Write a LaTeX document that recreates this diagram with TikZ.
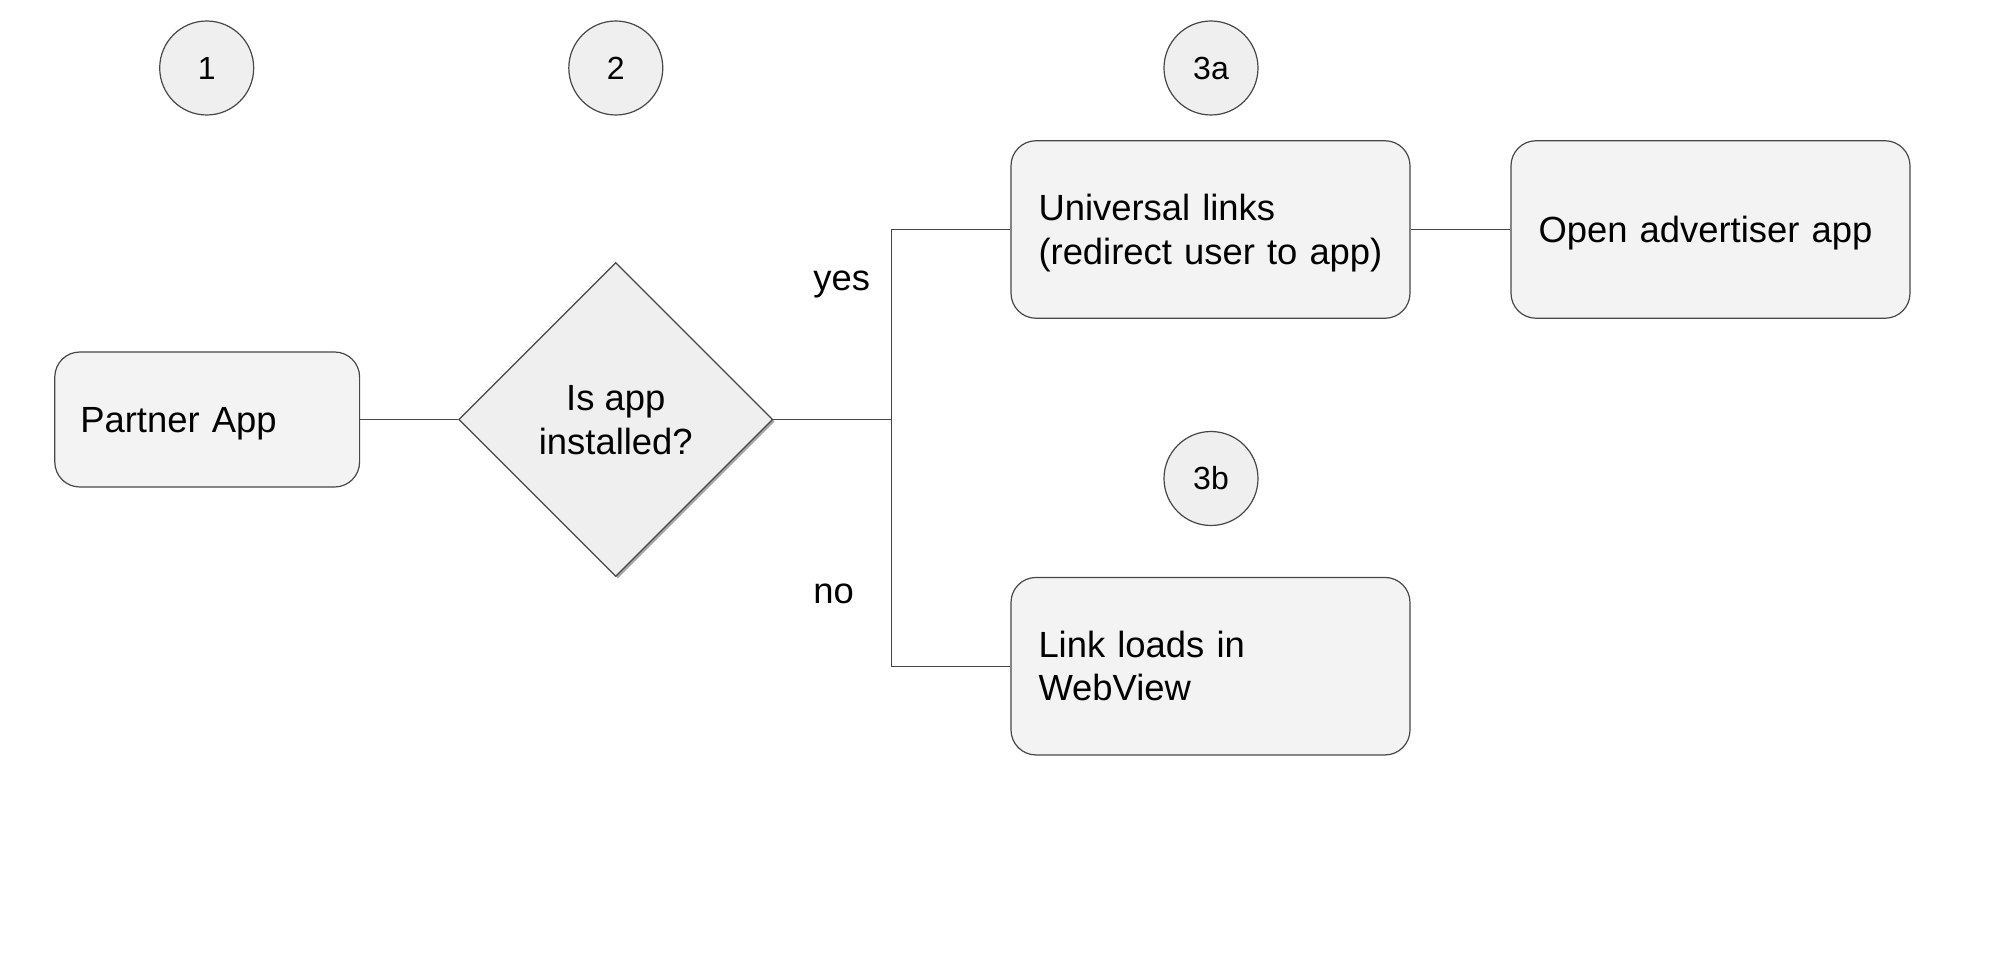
\documentclass[tikz,border=0pt]{standalone}
\usepackage{fontspec}
\setmainfont{Liberation Sans}
\usetikzlibrary{shapes.geometric,shadows}
\definecolor{edge}{HTML}{474747}
\definecolor{boxfill}{HTML}{F3F3F3}
\definecolor{circfill}{HTML}{EFEFEF}
\newcommand\lstr{\rule[-0.24em]{0pt}{1.19em}}
\tikzset{
  stepbox/.style={draw=edge, line width=0.6pt, fill=boxfill, rounded corners=12.5pt,
    minimum width=199.5pt, minimum height=88.75pt, text width=172pt, inner xsep=13.75pt,
    inner ysep=0pt, align=left, font=\fontsize{18.2}{21.7}\selectfont},
  numcirc/.style={draw=edge, line width=0.6pt, fill=circfill, circle, minimum size=47pt,
    inner sep=0pt, font=\fontsize{16}{18}\selectfont},
  decision/.style={draw=edge, line width=0.6pt, fill=circfill, diamond, aspect=1,
    minimum size=157pt, inner sep=0pt, align=center,
    font=\fontsize{18.2}{22.3}\selectfont,
    drop shadow={shadow xshift=1pt, shadow yshift=-1pt, opacity=0.35, fill=black}},
  conn/.style={draw=edge, line width=0.6pt},
  lbl/.style={font=\fontsize{18.2}{21.7}\selectfont, inner sep=0pt}
}
\begin{document}
\begin{tikzpicture}[x=0.5pt,y=-0.5pt]
\useasboundingbox (0,0) rectangle (1999,957);
\node[numcirc] (c1) at (206.7,68) {1};
\node[numcirc] (c2) at (615.8,68) {2};
\node[numcirc] (c3a) at (1211,68) {3a};
\node[numcirc] (c3b) at (1211,478.5) {3b};

\node[stepbox, minimum width=152.4pt, minimum height=67.5pt, text width=126.9pt, inner xsep=12.75pt] (pa) at (207.2,419.5) {\lstr Partner App};
\node[decision] (d) at (615.8,419.5) {\lstr Is app\\\lstr installed?};
\node[stepbox] (u) at (1210.5,229.5) {\lstr Universal links\\\lstr\mbox{(redirect user to app)}};
\node[stepbox] (o) at (1710.5,229.5) {\lstr\mbox{Open advertiser app}};
\node[stepbox] (w) at (1210.5,666.2) {\lstr Link loads in\\\lstr WebView};

\coordinate (j) at (891.5,419.5);
\draw[conn] (pa.east) -- (d.west);
\draw[conn] (d.east) -- (j);
\draw[conn] (u.west) -| (j) |- (w.west);
\draw[conn] (u.east) -- (o.west);

\node[lbl, anchor=base west] (yes) at (813,290.5) {yes};
\node[lbl, anchor=base west] (no) at (813,603) {no};
\end{tikzpicture}
\end{document}
